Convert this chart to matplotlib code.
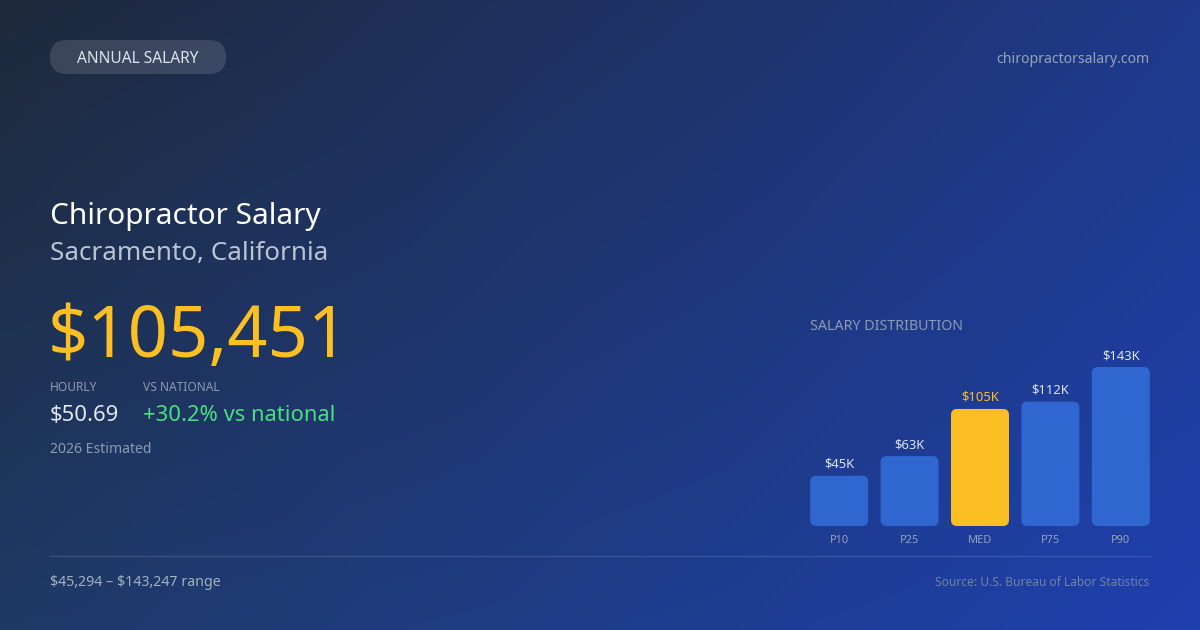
import numpy as np
import matplotlib
matplotlib.use("Agg")
import matplotlib.pyplot as plt
from matplotlib.patches import FancyBboxPatch

plt.rcParams["font.family"] = ["Noto Sans", "DejaVu Sans"]
plt.rcParams["text.parse_math"] = False

# ── Data ────────────────────────────────────────────────────────────────────
categories = ["P10", "P25", "MED", "P75", "P90"]
values = [45294, 63000, 105451, 112000, 143247]
value_labels = ["$45K", "$63K", "$105K", "$112K", "$143K"]
highlight = "MED"

title = "Chiropractor Salary"
location = "Sacramento, California"
headline = "$105,451"
hourly = "$50.69"
vs_national = "+30.2% vs national"
range_text = "$45,294 – $143,247 range"
source = "Source: U.S. Bureau of Labor Statistics"

W, H, DPI = 1200, 630, 100
PT = 0.72  # px -> pt at dpi 100

fig = plt.figure(figsize=(W / DPI, H / DPI), dpi=DPI)

# ── Background: full-figure pixel axes with bilinear gradient ──────────────
bg = fig.add_axes([0, 0, 1, 1])
bg.set_xlim(0, W); bg.set_ylim(H, 0); bg.axis("off")
tl = np.array([30, 41, 59]); tr = np.array([30, 58, 138])
bl = np.array([31, 58, 102]); br = np.array([30, 64, 175])
u = np.linspace(0, 1, 240)[None, :, None]
v = np.linspace(0, 1, 126)[:, None, None]
img = (tl * (1 - u) * (1 - v) + tr * u * (1 - v) + bl * (1 - u) * v + br * u * v) / 255
bg.imshow(img, extent=[0, W, H, 0], aspect="auto", interpolation="bilinear", zorder=0)

# pill
pill = FancyBboxPatch((50, 40), 176, 34, boxstyle="round,pad=0,rounding_size=17",
                      fc=(1, 1, 1, 0.13), ec="none", zorder=1)
bg.add_patch(pill)
bg.text(138, 63, "ANNUAL SALARY", color="#dbe3ee", fontsize=15.5 * PT, ha="center",
        va="baseline", zorder=2)
bg.text(1149, 63, "chiropractorsalary.com", color="#94a3b8", fontsize=14 * PT,
        ha="right", va="baseline")

bg.text(50, 224, title, color="white", fontsize=29.8 * PT, va="baseline")
bg.text(50, 260, location, color="#b8c4d4", fontsize=26 * PT, va="baseline")
bg.text(48, 357, headline, color="#fbbf24", fontsize=70.5 * PT, va="baseline")

bg.text(50, 391, "HOURLY", color="#8d9bb0", fontsize=12 * PT, va="baseline")
bg.text(143, 391, "VS NATIONAL", color="#8d9bb0", fontsize=12 * PT, va="baseline")
bg.text(50, 421, hourly, color="#e2e8f0", fontsize=22 * PT, va="baseline")
bg.text(143, 421, vs_national, color="#4ade80", fontsize=22 * PT, va="baseline")
bg.text(50, 453, "2026 Estimated", color="#8d9bb0", fontsize=14 * PT, va="baseline")

bg.plot([50, 1150], [556, 556], color=(1, 1, 1, 0.12), lw=1)
bg.text(50, 586, range_text, color="#a3b0c2", fontsize=14.2 * PT, va="baseline")
bg.text(1149, 586, source, color="#6f82a6", fontsize=12 * PT, ha="right", va="baseline")

bg.text(810, 330, "SALARY DISTRIBUTION", color="#8d9bb0", fontsize=14.2 * PT, va="baseline")

# ── Bars ────────────────────────────────────────────────────────────────────
ax_l, ax_w = 804, 352
ax_b, ax_h = 526, 159
ax = fig.add_axes([ax_l / W, (H - ax_b) / H, ax_w / W, ax_h / H])
ax.set_xlim(-0.5, len(categories) - 0.5)
ax.set_ylim(0, max(values))
ax.axis("off")

x_per_px = len(categories) / ax_w
y_per_px = max(values) / ax_h
bw = 58 * x_per_px
r = 6 * x_per_px
for i, (cat, val, lab) in enumerate(zip(categories, values, value_labels)):
    hl = cat == highlight
    col = "#fbbf24" if hl else "#3066d0"
    ax.add_patch(FancyBboxPatch((i - bw / 2, 0), bw, val,
                                boxstyle=f"round,pad=0,rounding_size={r}",
                                mutation_aspect=y_per_px / x_per_px,
                                fc=col, ec="none", clip_on=False))
    ax.annotate(lab, (i, val), xytext=(0, 8 * PT), textcoords="offset points",
                ha="center", va="baseline", fontsize=13 * PT,
                color="#fbbf24" if hl else "#dbe3ee", annotation_clip=False)
    ax.annotate(cat, (i, 0), xytext=(0, -17 * PT), textcoords="offset points",
                ha="center", va="baseline", fontsize=11 * PT, color="#94a3b8",
                annotation_clip=False)

fig.savefig("out.png", dpi=DPI)
